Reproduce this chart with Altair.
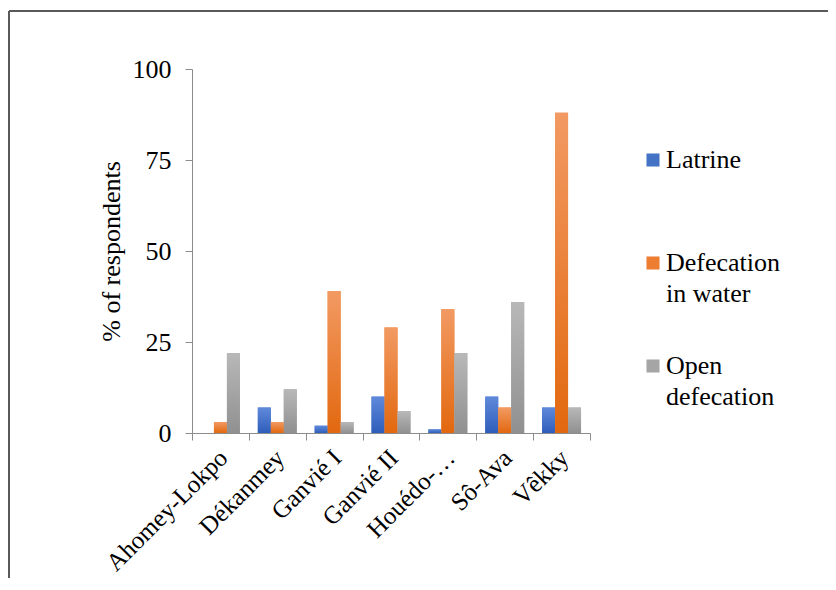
import altair as alt
import pandas as pd

categories = ["Ahomey-Lokpo", "Dékanmey", "Ganvié I", "Ganvié II", "Houédo-…", "Sô-Ava", "Vêkky"]
series_names = ["Latrine", "Defecation in water", "Open defecation"]
latrine = [0, 7, 2, 10, 1, 10, 7]
defecation_in_water = [3, 3, 39, 29, 34, 7, 88]
open_defecation = [22, 12, 3, 6, 22, 36, 7]
y_ticks = [0, 25, 50, 75, 100]

base_colors = ["#4472C4", "#ED7D31", "#A5A5A5"]
grad_stops = [
    ("#5F8ADB", "#2E5DBA"),
    ("#F29A63", "#E2680F"),
    ("#B8B8B8", "#909090"),
]

rows = []
for s, vals in zip(series_names, [latrine, defecation_in_water, open_defecation]):
    for c, v in zip(categories, vals):
        rows.append({"site": c, "practice": s, "value": v})
df = pd.DataFrame(rows)

FONT = "Liberation Serif"

x_enc = alt.X(
    "site:N",
    sort=categories,
    scale=alt.Scale(paddingInner=0, paddingOuter=0),
    axis=alt.Axis(
        title=None,
        labelAngle=-45,
        labelFont=FONT,
        labelFontSize=25,
        labelColor="black",
        labelPadding=5,
        labelOffset=-6,
        labelLimit=300,
        domainColor="#8c8c8c",
        tickColor="#8c8c8c",
        tickSize=7,
        tickBand="extent",
        grid=False,
    ),
)
xoff_enc = alt.XOffset(
    "practice:N",
    sort=series_names,
    scale=alt.Scale(domain=series_names, paddingInner=0, paddingOuter=0.69),
)
y_enc = alt.Y(
    "value:Q",
    scale=alt.Scale(domain=[0, 100], nice=False),
    axis=alt.Axis(
        title="% of respondents",
        titleFont=FONT,
        titleFontSize=26,
        titleFontWeight="normal",
        titleColor="black",
        titlePadding=8,
        values=y_ticks,
        labelFont=FONT,
        labelFontSize=26,
        labelColor="black",
        labelPadding=14,
        domainColor="#8c8c8c",
        tickColor="#8c8c8c",
        tickSize=7,
        grid=False,
    ),
)

label_expr = (
    "indexof(datum.label, ' ') > 0 "
    "? [slice(datum.label, 0, indexof(datum.label, ' ')), slice(datum.label, indexof(datum.label, ' ') + 1)] "
    ": [datum.label, ' ']"
)

base = alt.Chart(df).mark_bar().encode(
    x=x_enc,
    xOffset=xoff_enc,
    y=y_enc,
    color=alt.Color(
        "practice:N",
        sort=series_names,
        scale=alt.Scale(domain=series_names, range=base_colors),
        legend=alt.Legend(
            title=None,
            orient="none",
            legendX=448,
            legendY=78,
            symbolType="square",
            symbolSize=170,
            symbolStrokeWidth=0,
            labelFont=FONT,
            labelFontSize=26,
            labelColor="black",
            labelOffset=0,
            labelLimit=300,
            labelBaseline="middle",
            rowPadding=46,
            labelExpr=label_expr,
        ),
    ),
)

layers = [base]
for s, (top, bottom) in zip(series_names, grad_stops):
    layers.append(
        alt.Chart(df)
        .transform_filter(alt.datum.practice == s)
        .mark_bar(
            fill=alt.Gradient(
                gradient="linear",
                stops=[alt.GradientStop(color=top, offset=0), alt.GradientStop(color=bottom, offset=1)],
                x1=0, x2=0, y1=0, y2=1,
            )
        )
        .encode(x=x_enc, xOffset=xoff_enc, y=y_enc)
    )

frame_top = alt.Chart(df).mark_rule(color="#5a5a5a", strokeWidth=1.5).encode(
    x=alt.value(-183), x2=alt.value(700), y=alt.value(-58)
)
frame_left = alt.Chart(df).mark_rule(color="#5a5a5a", strokeWidth=1.5).encode(
    x=alt.value(-183), y=alt.value(-58), y2=alt.value(600)
)

chart = (
    alt.layer(*layers, frame_top, frame_left)
    .properties(
        width=398,
        height=364,
        autosize=alt.AutoSizeParams(type="none"),
        padding={"left": 184, "top": 61, "right": 238, "bottom": 145},
    )
    .configure(font=FONT, style={"guide-label": {"lineHeight": 31}})
    .configure_legend(labelFont=FONT, labelFontSize=26)
    .configure_view(stroke=None)
)

chart.save("out.html", embed_options={"renderer": "svg", "actions": False})
